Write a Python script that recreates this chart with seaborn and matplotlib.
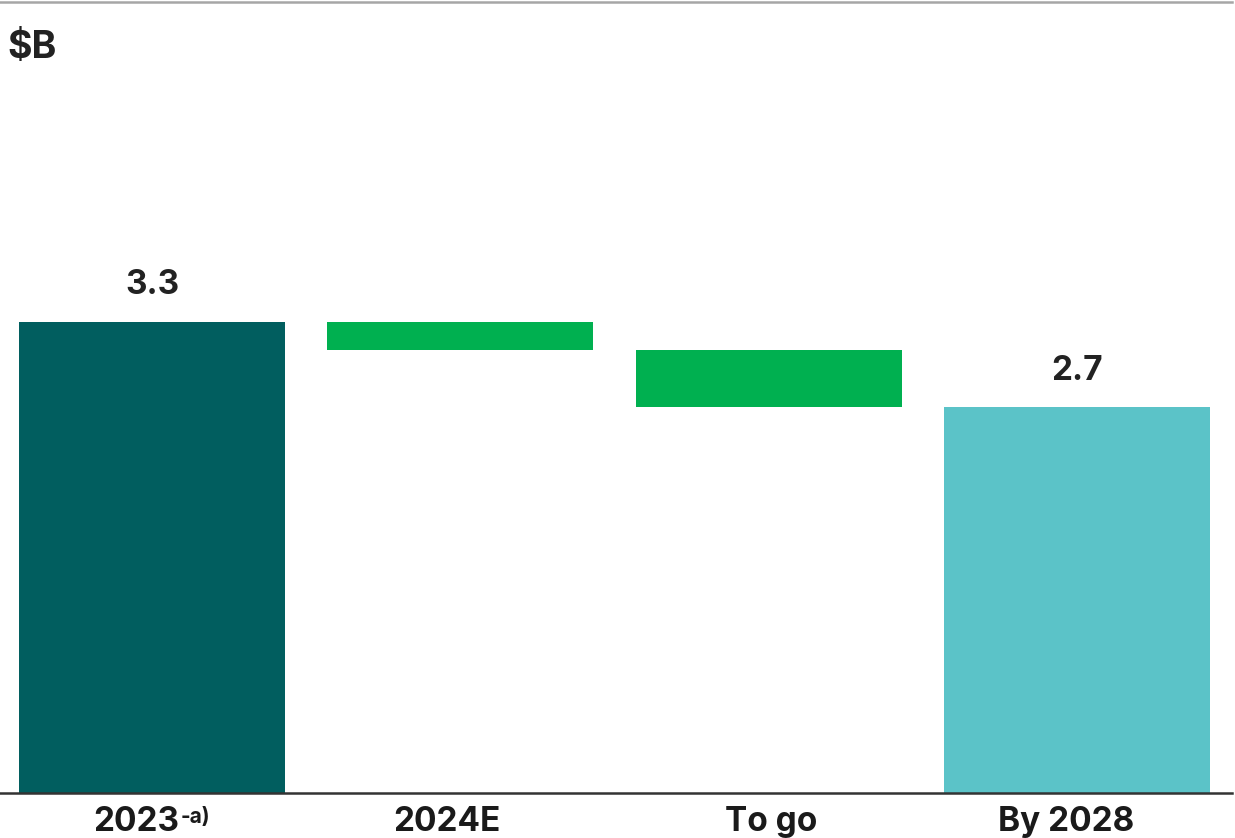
import matplotlib
matplotlib.use("Agg")
import matplotlib.pyplot as plt
import matplotlib.transforms as mtransforms
import seaborn as sns

# Waterfall: start, two reductions, end value ($B)
categories = ["2023", "2024E", "To go", "By 2028"]
start_value = 3.3
reductions = [0.2, 0.4]
end_value = 2.7
bar_colors = ["#015E5F", "#00B050", "#00B050", "#5BC3C8"]

# Build floating bars: height and bottom for each step
heights = [start_value]
bottoms = [0.0]
level = start_value
for r in reductions:
    level -= r
    heights.append(r)
    bottoms.append(level)
heights.append(end_value)
bottoms.append(0.0)

sns.set_theme(style="white")
plt.rcParams["font.family"] = ["Inter", "DejaVu Sans"]

fig = plt.figure(figsize=(12.35, 8.38), dpi=100)
ax = fig.add_axes([0.0, 1 - 793 / 838, 1232 / 1235, (793 - 2) / 838])

sns.barplot(x=categories, y=heights, bottom=bottoms, width=0.863,
            color=bar_colors[0], linewidth=0, ax=ax)
for patch, c in zip(ax.patches, bar_colors):
    patch.set_facecolor(c)
    patch.set_edgecolor("none")

ax.set_ylim(0, 5.54)
ax.set_xlim(-0.493, 3.503)
ax.set_yticks([])
ax.set_ylabel("")
ax.set_xlabel("")

for side in ["left", "right"]:
    ax.spines[side].set_visible(False)
ax.spines["bottom"].set_color("#333333")
ax.spines["bottom"].set_linewidth(1.8)
ax.spines["top"].set_color("#a6a6a6")
ax.spines["top"].set_linewidth(1.8)

ax.tick_params(axis="x", length=0, pad=9, labelsize=24, labelcolor="#1a1a1a")

# Horizontal nudges (px) for the category labels
label_shift_px = [-16, -13, 3, -11]
for lbl, dx in zip(ax.get_xticklabels(), label_shift_px):
    lbl.set_fontweight("bold")
    lbl.set_transform(lbl.get_transform() +
                      mtransforms.ScaledTranslation(dx / 100, 0, fig.dpi_scale_trans))

# Value labels on the start and end bars
for i, val in [(0, start_value), (3, end_value)]:
    ax.annotate(f"{val:.1f}", xy=(i, val), xytext=(0, 15), textcoords="offset points",
                ha="center", va="bottom", fontsize=24, fontweight="bold", color="#222222")

# Unit label
fig.text(7 / 1235, 1 - 58 / 838, "$B", fontsize=27, fontweight="bold",
         color="#222222", ha="left", va="baseline")

# Footnote marker on the first category label
fig.canvas.draw()
bb = ax.get_xticklabels()[0].get_window_extent()
fig.text((bb.x1 + 2) / fig.bbox.width, (bb.y1 - 1) / fig.bbox.height, "-a)",
         fontsize=15, fontweight="bold", color="#1a1a1a", ha="left", va="top")

fig.savefig("out.png", dpi=100)
